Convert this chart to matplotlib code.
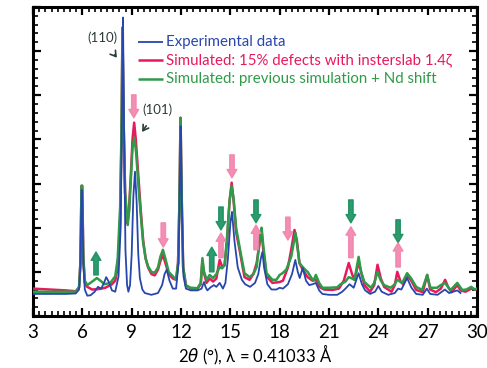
import matplotlib
matplotlib.use("Agg")
import matplotlib.pyplot as plt
from matplotlib.ticker import MultipleLocator, AutoMinorLocator, NullFormatter

plt.rcParams['font.family'] = ['Lato', 'DejaVu Sans']
plt.rcParams['mathtext.fontset'] = 'dejavusans'
plt.rcParams['path.simplify'] = False

# Experimental pattern (2theta in degrees, intensity in arbitrary units)
exp_x = [3.0, 4.0, 5.0, 5.6, 5.8, 5.88, 5.95, 5.99, 6.06, 6.15, 6.3, 6.5, 6.75, 6.95, 7.15, 7.35, 7.45,
         7.6, 7.8, 8.0, 8.2, 8.33, 8.42, 8.47, 8.53, 8.62, 8.72, 8.8, 8.9, 9.0, 9.1, 9.2, 9.3,
         9.4, 9.5, 9.65, 9.8, 10.2, 10.6, 10.85, 11.0, 11.13, 11.3, 11.5, 11.7, 11.85, 11.93,
         11.98, 12.05, 12.15, 12.3, 12.6, 13.0, 13.25, 13.4, 13.5, 13.6, 13.8, 14.0, 14.15,
         14.35, 14.55, 14.7, 14.85, 15.0, 15.1, 15.25, 15.45, 15.7, 15.9, 16.2, 16.5, 16.7,
         16.85, 16.95, 17.05, 17.25, 17.5, 17.8, 18.0, 18.2, 18.5, 18.75, 18.95, 19.1, 19.22,
         19.4, 19.6, 19.8, 20.0, 20.2, 20.4, 20.6, 21.0, 21.5, 21.8, 22.0, 22.25, 22.5, 22.8,
         23.0, 23.2, 23.5, 23.8, 24.0, 24.2, 24.6, 25.0, 25.2, 25.4, 25.75, 26.0, 26.3, 26.7,
         26.95, 27.15, 27.6, 28.05, 28.3, 28.8, 29.0]
exp_y = [0.50, 0.50, 0.50, 0.51, 0.60, 1.10, 2.85, 2.85, 1.20, 0.60, 0.46, 0.47, 0.55, 0.66, 0.62, 0.78, 0.88,
         0.78, 0.58, 0.55, 0.90, 2.00, 5.00, 6.76, 4.50, 1.50, 0.70, 0.55, 0.70, 1.40, 2.70, 3.27, 2.60,
         1.40, 0.85, 0.60, 0.52, 0.48, 0.52, 0.70, 0.95, 1.05, 0.80, 0.62, 0.62, 1.20, 3.20,
         4.30, 2.50, 0.90, 0.62, 0.58, 0.58, 0.62, 0.77, 0.65, 0.58, 0.65, 0.70, 0.66,
         0.75, 0.62, 0.75, 1.30, 2.10, 2.36, 1.70, 1.10, 0.82, 0.72, 0.66, 0.75, 0.95,
         1.30, 1.45, 1.10, 0.72, 0.60, 0.60, 0.64, 0.62, 0.72, 0.95, 1.27, 1.00, 0.86,
         1.09, 0.80, 0.70, 0.72, 0.75, 0.58, 0.50, 0.48, 0.48, 0.55, 0.62, 0.72, 0.64, 0.97,
         0.72, 0.58, 0.50, 0.55, 0.68, 0.55, 0.48, 0.52, 0.62, 0.60, 0.86, 0.65, 0.50, 0.48,
         0.62, 0.50, 0.48, 0.60, 0.52, 0.58, 0.52]

# Simulated: 15% defects with interslab 1.4 zeta
sim_x = [3.0, 4.0, 5.0, 5.6, 5.8, 5.88, 5.95, 5.99, 6.06, 6.15, 6.3, 6.6, 7.0, 7.4, 7.8, 8.0, 8.15, 8.3,
         8.38, 8.44, 8.5, 8.6, 8.72, 8.82, 8.95, 9.05, 9.15, 9.25, 9.4, 9.55, 9.7, 9.85, 10.0,
         10.2, 10.4, 10.6, 10.75, 10.9, 11.05, 11.25, 11.5, 11.7, 11.82, 11.9, 11.97, 12.05,
         12.13, 12.3, 12.6, 13.0, 13.2, 13.3, 13.38, 13.55, 13.75, 13.95, 14.15, 14.35, 14.5,
         14.65, 14.8, 14.95, 15.08, 15.2, 15.35, 15.56, 15.86, 16.17, 16.4, 16.6, 16.8, 16.9,
         17.0, 17.2, 17.56, 18.0, 18.2, 18.5, 18.7, 18.9, 19.05, 19.2, 19.4, 19.7, 20.0, 20.2,
         20.45, 20.7, 21.2, 21.6, 21.9, 22.2, 22.4, 22.55, 22.8, 22.95, 23.15, 23.5, 23.75,
         23.95, 24.15, 24.35, 24.8, 25.0, 25.15, 25.35, 25.5, 25.75, 26.0, 26.3, 26.7, 26.97,
         27.15, 27.5, 27.8, 28.06, 28.25, 28.45, 28.8, 29.0, 29.3, 29.65, 30.0]
sim_y = [0.62, 0.60, 0.58, 0.56, 0.65, 1.20, 2.95, 2.95, 1.30, 0.75, 0.66, 0.60, 0.61, 0.64, 0.72, 0.80, 1.10, 2.20,
         4.00, 6.53, 4.50, 2.80, 2.10, 2.30, 3.20, 4.00, 4.38, 4.00, 3.20, 2.40, 1.70, 1.30, 1.10,
         0.95, 0.92, 1.05, 1.25, 1.38, 1.20, 0.95, 0.85, 0.82, 1.20, 2.50, 4.49, 2.50,
         1.10, 0.70, 0.62, 0.62, 0.72, 1.25, 1.00, 0.75, 0.85, 0.78, 0.85, 1.27, 1.12,
         1.15, 1.70, 2.60, 3.02, 2.60, 1.90, 1.50, 0.88, 0.82, 0.95, 1.20, 1.70, 1.92,
         1.50, 0.90, 0.75, 0.77, 0.80, 1.10, 1.50, 1.95, 1.70, 1.20, 1.05, 0.88, 0.80, 0.82,
         0.65, 0.60, 0.59, 0.62, 0.80, 1.20, 0.95, 0.82, 1.22, 1.00, 0.70, 0.55, 0.70,
         1.16, 0.85, 0.66, 0.55, 0.70, 1.00, 0.78, 0.72, 0.93, 0.80, 0.59, 0.54, 0.93,
         0.60, 0.54, 0.62, 0.82, 0.65, 0.54, 0.70, 0.58, 0.55, 0.62, 0.60]

# Simulated: previous simulation + Nd shift
nd_x = [3.0, 4.0, 5.0, 5.6, 5.8, 5.88, 5.95, 5.99, 6.06, 6.15, 6.3, 6.6, 6.88, 7.1, 7.35, 7.7, 8.0, 8.15,
        8.3, 8.38, 8.44, 8.5, 8.6, 8.76, 8.85, 8.95, 9.05, 9.16, 9.27, 9.4, 9.55, 9.7, 9.85,
        10.0, 10.2, 10.4, 10.6, 10.75, 10.9, 11.05, 11.25, 11.5, 11.7, 11.82, 11.9, 11.97,
        12.05, 12.13, 12.3, 12.6, 13.0, 13.2, 13.3, 13.4, 13.56, 13.74, 13.95, 14.15, 14.35,
        14.5, 14.65, 14.8, 14.95, 15.08, 15.2, 15.35, 15.56, 15.86, 16.17, 16.4, 16.6, 16.8,
        16.9, 17.0, 17.2, 17.56, 17.8, 18.0, 18.17, 18.4, 18.7, 18.96, 19.1, 19.2, 19.4,
        19.55, 19.7, 19.9, 20.05, 20.2, 20.4, 20.6, 21.0, 21.5, 21.7, 22.0, 22.2, 22.4, 22.55,
        22.8, 22.95, 23.15, 23.55, 23.75, 23.95, 24.15, 24.35, 24.75, 25.0, 25.15, 25.45,
        25.75, 26.0, 26.3, 26.66, 26.97, 27.15, 27.27, 27.57, 27.8, 28.06, 28.25, 28.4, 28.8,
        29.1, 29.35, 29.65, 29.85, 30.0]
nd_y = [0.55, 0.55, 0.55, 0.55, 0.65, 1.20, 2.95, 2.95, 1.30, 0.80, 0.70, 0.78, 0.86, 0.80, 0.72, 0.75, 0.90, 1.30,
        2.50, 4.20, 6.53, 4.60, 2.80, 2.06, 2.40, 3.10, 3.80, 4.04, 3.70, 3.00, 2.30, 1.65, 1.30,
        1.12, 1.00, 0.98, 1.10, 1.35, 1.50, 1.30, 1.00, 0.90, 0.82, 1.20, 2.50, 4.49,
        2.50, 1.10, 0.68, 0.64, 0.63, 0.75, 1.31, 1.00, 0.82, 0.93, 0.86, 0.95, 1.11,
        1.08, 1.15, 1.80, 2.60, 2.95, 2.65, 2.00, 1.56, 0.97, 0.88, 0.95, 1.11, 1.80,
        2.00, 1.60, 0.97, 0.82, 0.82, 0.93, 0.97, 1.05, 1.34, 1.88, 1.50, 1.20, 1.11,
        1.05, 1.00, 0.88, 0.80, 0.93, 0.75, 0.64, 0.64, 0.65, 0.72, 0.78, 0.88, 0.85, 0.82,
        1.34, 1.00, 0.77, 0.64, 0.75, 1.00, 0.80, 0.70, 0.64, 0.72, 0.82, 0.75,
        0.97, 0.85, 0.66, 0.59, 0.93, 0.65, 0.64, 0.64, 0.70, 0.75, 0.65, 0.59, 0.75,
        0.59, 0.60, 0.66, 0.60, 0.62]

labels = ["Experimental data",
          "Simulated: 15% defects with insterslab 1.4ζ",
          "Simulated: previous simulation + Nd shift"]
colors = ["#2747ad", "#e8195c", "#2f9b48"]

# Change markers: x position, tail y, head y, colour kind
arrow_x = [6.83, 9.13, 10.92, 13.87, 14.43, 14.43, 15.1, 16.56, 16.56, 18.5, 22.33, 22.33, 25.2, 25.2]
arrow_tail = [0.93, 5.01, 2.11, 1.00, 2.47, 1.32, 3.65, 2.63, 1.50, 2.24, 2.63, 1.32, 2.18, 1.11]
arrow_head = [1.45, 4.49, 1.56, 1.56, 1.95, 1.88, 3.13, 2.11, 2.06, 1.72, 2.11, 2.02, 1.66, 1.66]
arrow_kind = ["g", "p", "p", "g", "g", "p", "p", "g", "p", "p", "g", "p", "g", "p"]
arrow_colors = {"g": "#17905e", "p": "#f283ad"}

fig = plt.figure(figsize=(4.87, 3.68), dpi=100)
ax = fig.add_axes([0.0678, 0.1413, 0.9117, 0.8397])

l_sim, = ax.plot(sim_x, sim_y, color=colors[1], lw=1.8, zorder=3, solid_joinstyle="round")
l_nd, = ax.plot(nd_x, nd_y, color=colors[2], lw=1.8, zorder=4, solid_joinstyle="round")
l_exp, = ax.plot(exp_x, exp_y, color=colors[0], lw=1.3, zorder=5, solid_joinstyle="round")

for x, yt, yh, k in zip(arrow_x, arrow_tail, arrow_head, arrow_kind):
    ax.annotate("", xy=(x, yh), xytext=(x, yt),
                arrowprops=dict(arrowstyle="simple,head_length=0.6,head_width=0.7,tail_width=0.32",
                                color=arrow_colors[k], alpha=0.9, shrinkA=0, shrinkB=0,
                                mutation_scale=10), zorder=6)

ann_color = "#2d3b3b"
ax.annotate("(110)", xy=(8.1, 5.85), xytext=(7.2, 6.3), color=ann_color, fontsize=9.5,
            ha="center", va="center",
            arrowprops=dict(arrowstyle="->,head_length=0.4,head_width=0.25", color=ann_color,
                            lw=1.2, shrinkA=7, shrinkB=0))
ax.annotate("(101)", xy=(9.63, 4.17), xytext=(10.54, 4.67), color=ann_color, fontsize=9.5,
            ha="center", va="center",
            arrowprops=dict(arrowstyle="->,head_length=0.4,head_width=0.25", color=ann_color,
                            lw=1.2, shrinkA=6, shrinkB=0))

# Key: short line sample plus coloured label for each pattern
key_rows = [0.887, 0.828, 0.767]
for ypos, txt, col, lw in zip(key_rows, labels, colors, [1.3, 1.8, 1.8]):
    ax.plot([0.2365, 0.2928], [ypos, ypos], color=col, lw=lw, transform=ax.transAxes,
            solid_capstyle="butt", zorder=7)
    ax.text(0.2995, ypos, txt, color=col, fontsize=10.8, va="center", ha="left",
            transform=ax.transAxes, zorder=7)

ax.set_xlim(3, 30)
ax.set_ylim(0, 7)
ax.xaxis.set_major_locator(MultipleLocator(3))
ax.xaxis.set_minor_locator(AutoMinorLocator(8))
ax.yaxis.set_major_locator(MultipleLocator(1))
ax.yaxis.set_minor_locator(AutoMinorLocator(5))
ax.yaxis.set_major_formatter(NullFormatter())
ax.tick_params(which="both", direction="in", top=True, right=True, width=1.6)
ax.tick_params(which="major", length=6, labelsize=13.5, pad=6)
ax.tick_params(which="minor", length=3.5, width=1.2)
for s in ax.spines.values():
    s.set_linewidth(2.2)

ax.set_xlabel("2$\\theta$ (°), λ = 0.41033 Å", fontsize=12)
ax.xaxis.set_label_coords(0.5, -0.086)

fig.savefig("out.png", dpi=100)
